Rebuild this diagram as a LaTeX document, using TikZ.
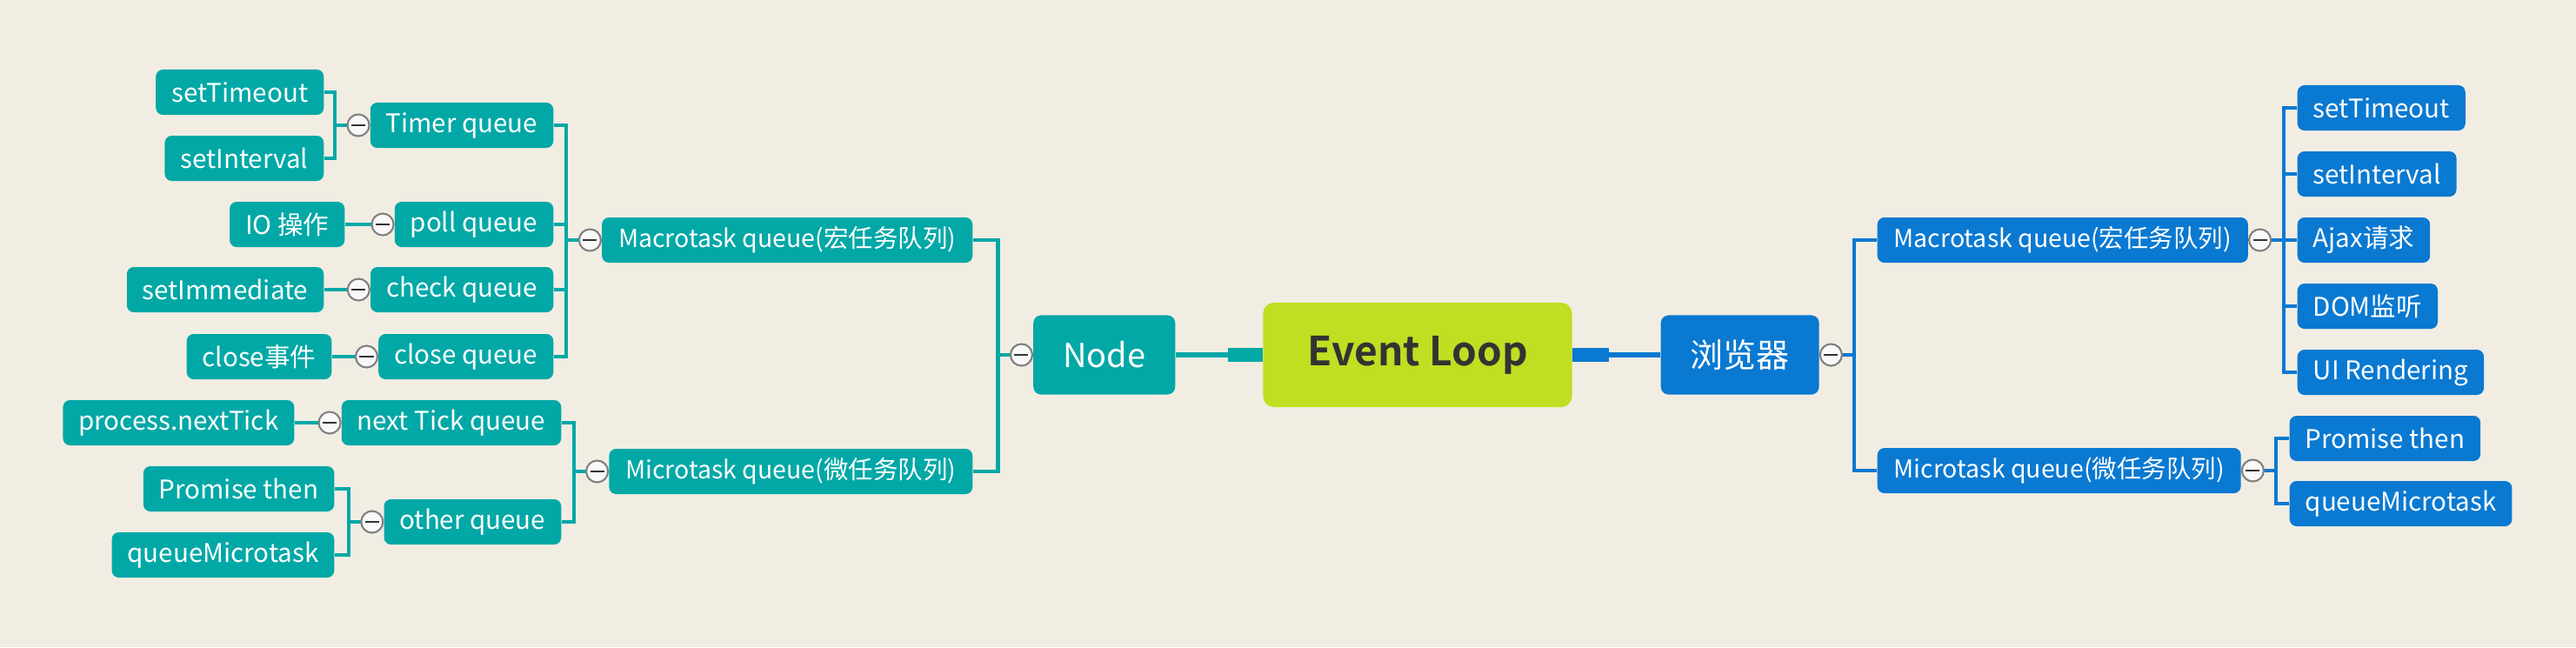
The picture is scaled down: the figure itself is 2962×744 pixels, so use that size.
\documentclass[tikz,border=0pt]{standalone}
\usepackage{fontspec}
\setmainfont{Noto Sans CJK SC}
\newfontfamily\rootfont{Noto Sans CJK SC Bold}
\usepackage{xcolor}
\usepackage{tikz}
\usetikzlibrary{calc}
\definecolor{mmteal}{HTML}{02A8A6}
\definecolor{mmblue}{HTML}{0A79D1}
\definecolor{mmlime}{HTML}{C0DE22}
\definecolor{mmpaper}{HTML}{F2EDE3}
\definecolor{mmink}{HTML}{333333}
\tikzset{
  mmroot/.style={fill=mmlime, rounded corners=3.5pt, minimum width=3.55cm, minimum height=1.2cm, text=mmink, font=\rootfont\fontsize{13.1}{15}\selectfont},
  mmmain/.style={rounded corners=2.5pt, minimum height=0.91cm, inner xsep=0.34cm, text=white, font=\fontsize{10.8}{13}\selectfont},
  mmtopic/.style={rounded corners=2.3pt, minimum height=0.52cm, inner xsep=0.19cm, inner ysep=0pt, text=white, font=\fontsize{8.1}{10}\selectfont},
  mmleaf/.style={rounded corners=2.3pt, minimum height=0.52cm, inner xsep=0.18cm, inner ysep=0pt, text=white, font=\fontsize{8.4}{10}\selectfont},
  nodeside/.style={fill=mmteal, anchor=east},
  webside/.style={fill=mmblue, anchor=west},
  mmlink/.style={line width=1.15pt},
  mmfold/.style={circle, draw=gray, fill=white!95!gray, line width=0.6pt, minimum size=0.25cm, inner sep=0pt,
    path picture={\draw[mmink, line width=0.6pt] ([xshift=-0.08cm]path picture bounding box.center) -- ([xshift=0.08cm]path picture bounding box.center);}}
}

\begin{document}
\begin{tikzpicture}[x=0.01cm, y=-0.01cm]
\fill[mmpaper] (0,0) rectangle (2962,744);
\useasboundingbox (0,0) rectangle (2962,744);
\node[mmroot] (loop) at (1630,408) {Event Loop};
\node[mmmain, nodeside] (node) at (1352,408) {Node};
\node[mmmain, webside] (browser) at (1909,408) {浏览器};
% Node side
\node[mmtopic, nodeside] (macroN) at (1119,276) {Macrotask queue(宏任务队列)};
\node[mmtopic, nodeside] (microN) at (1119,542) {Microtask queue(微任务队列)};
\node[mmleaf, nodeside] (timer) at (637,144) {Timer queue};
\node[mmleaf, nodeside] (poll) at (637,258) {poll queue};
\node[mmleaf, nodeside] (check) at (637,333) {check queue};
\node[mmleaf, nodeside] (closeq) at (637,410) {close queue};
\node[mmleaf, nodeside] (nexttick) at (646,486) {next Tick queue};
\node[mmleaf, nodeside] (other) at (646,600) {other queue};
\node[mmleaf, nodeside] (timeoutN) at (373,106) {setTimeout};
\node[mmleaf, nodeside] (intervalN) at (373,182) {setInterval};
\node[mmleaf, nodeside] (io) at (397,258) {IO 操作};
\node[mmleaf, nodeside] (immediate) at (373,333) {setImmediate};
\node[mmleaf, nodeside] (closeevt) at (382,410) {close事件};
\node[mmleaf, nodeside] (nexttickfn) at (339,486) {process.nextTick};
\node[mmleaf, nodeside] (promiseN) at (385,562) {Promise then};
\node[mmleaf, nodeside] (queuemtN) at (385,638) {queueMicrotask};
% browser side
\node[mmtopic, webside] (macroW) at (2158,276) {Macrotask queue(宏任务队列)};
\node[mmtopic, webside] (microW) at (2158,541) {Microtask queue(微任务队列)};
\node[mmleaf, webside] (timeoutW) at (2641,124) {setTimeout};
\node[mmleaf, webside] (intervalW) at (2641,200) {setInterval};
\node[mmleaf, webside] (ajax) at (2641,276) {Ajax请求};
\node[mmleaf, webside] (dom) at (2641,352) {DOM监听};
\node[mmleaf, webside] (render) at (2641,428) {UI Rendering};
\node[mmleaf, webside] (promiseW) at (2632,504) {Promise then};
\node[mmleaf, webside] (queuemtW) at (2632,579) {queueMicrotask};
% links
\draw[mmteal, line width=1.7pt] (node.east) -- (loop.west);
\draw[mmteal, line width=4.3pt] ([xshift=-0.4cm]loop.west) -- (loop.west);
\draw[mmblue, line width=1.7pt] (loop.east) -- (browser.west);
\draw[mmblue, line width=4.3pt] (loop.east) -- ([xshift=0.42cm]loop.east);
\foreach \p/\c in {node/macroN, node/microN, macroN/timer, macroN/poll, macroN/check, macroN/closeq,
  microN/nexttick, microN/other, timer/timeoutN, timer/intervalN, poll/io, check/immediate,
  closeq/closeevt, nexttick/nexttickfn, other/promiseN, other/queuemtN} {
  \draw[mmlink, mmteal] (\p.west) -- ++(-40,0) |- (\c.east);
}
\foreach \p/\c in {browser/macroW, browser/microW, macroW/timeoutW, macroW/intervalW, macroW/ajax,
  macroW/dom, macroW/render, microW/promiseW, microW/queuemtW} {
  \draw[mmlink, mmblue] (\p.east) -- ++(40,0) |- (\c.west);
}
% fold marks
\foreach \n in {node, macroN, microN, timer, poll, check, closeq, nexttick, other} {
  \node[mmfold] (fold-\n) at ([xshift=-0.13cm]\n.west) {};
}
\foreach \n in {browser, macroW, microW} {
  \node[mmfold] (fold-\n) at ([xshift=0.13cm]\n.east) {};
}
\end{tikzpicture}
\end{document}
